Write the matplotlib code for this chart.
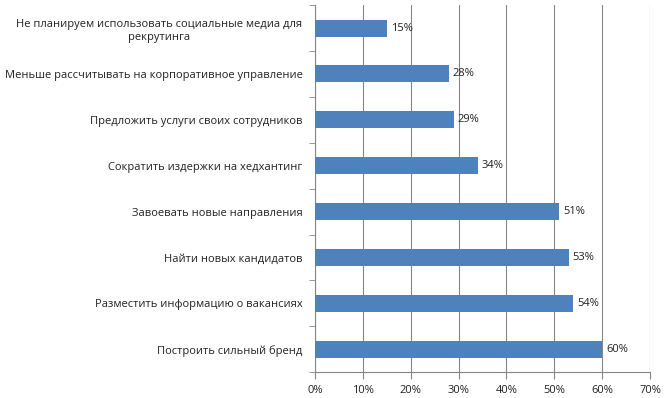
import numpy as np
import matplotlib.pyplot as plt
from matplotlib.ticker import FixedLocator, PercentFormatter

plt.rcParams['font.family'] = ['Open Sans', 'DejaVu Sans']

categories = [
    'Не планируем использовать социальные медиа для\nрекрутинга',
    'Меньше рассчитывать на корпоративное управление',
    'Предложить услуги своих сотрудников',
    'Сократить издержки на хедхантинг',
    'Завоевать новые направления',
    'Найти новых кандидатов',
    'Разместить информацию о вакансиях',
    'Построить сильный бренд',
]
values = [15, 28, 29, 34, 51, 53, 54, 60]
xticks = [0, 10, 20, 30, 40, 50, 60, 70]

bar_color = '#4F81BD'
line_color = '#868686'
fs = 8.0

fig = plt.figure(figsize=(6.66, 3.98), dpi=100)
ax = fig.add_axes([0.473, 0.065, 0.503, 0.922])

n = len(categories)
ypos = np.arange(n)[::-1]
ax.barh(ypos, values, height=0.37, color=bar_color, zorder=3)

for y, v in zip(ypos, values):
    ax.text(v + 0.8, y, f'{v}%', va='center', ha='left', fontsize=fs,
            color='#222222', zorder=4)

ax.set_xlim(0, 70)
ax.set_ylim(-0.5, n - 0.5)
ax.set_xticks(xticks)
ax.xaxis.set_major_formatter(PercentFormatter(decimals=0))
ax.grid(axis='x', color=line_color, linewidth=0.8, zorder=0)

# category labels at centres, tick marks at boundaries
ax.set_yticks(ypos)
ax.set_yticklabels(categories, fontsize=fs, multialignment='center',
                   color='#222222', linespacing=1.3)
ax.tick_params(axis='y', which='major', length=0, pad=9)
ax.yaxis.set_minor_locator(FixedLocator(np.arange(-0.5, n, 1.0)))
ax.tick_params(axis='y', which='minor', length=4, color=line_color)
ax.tick_params(axis='x', length=5, color=line_color, labelsize=fs,
               labelcolor='#222222', pad=4)

for s in ['top', 'right']:
    ax.spines[s].set_visible(False)
for s in ['left', 'bottom']:
    ax.spines[s].set_color(line_color)
    ax.spines[s].set_linewidth(0.8)

fig.savefig('out.png', dpi=100)
